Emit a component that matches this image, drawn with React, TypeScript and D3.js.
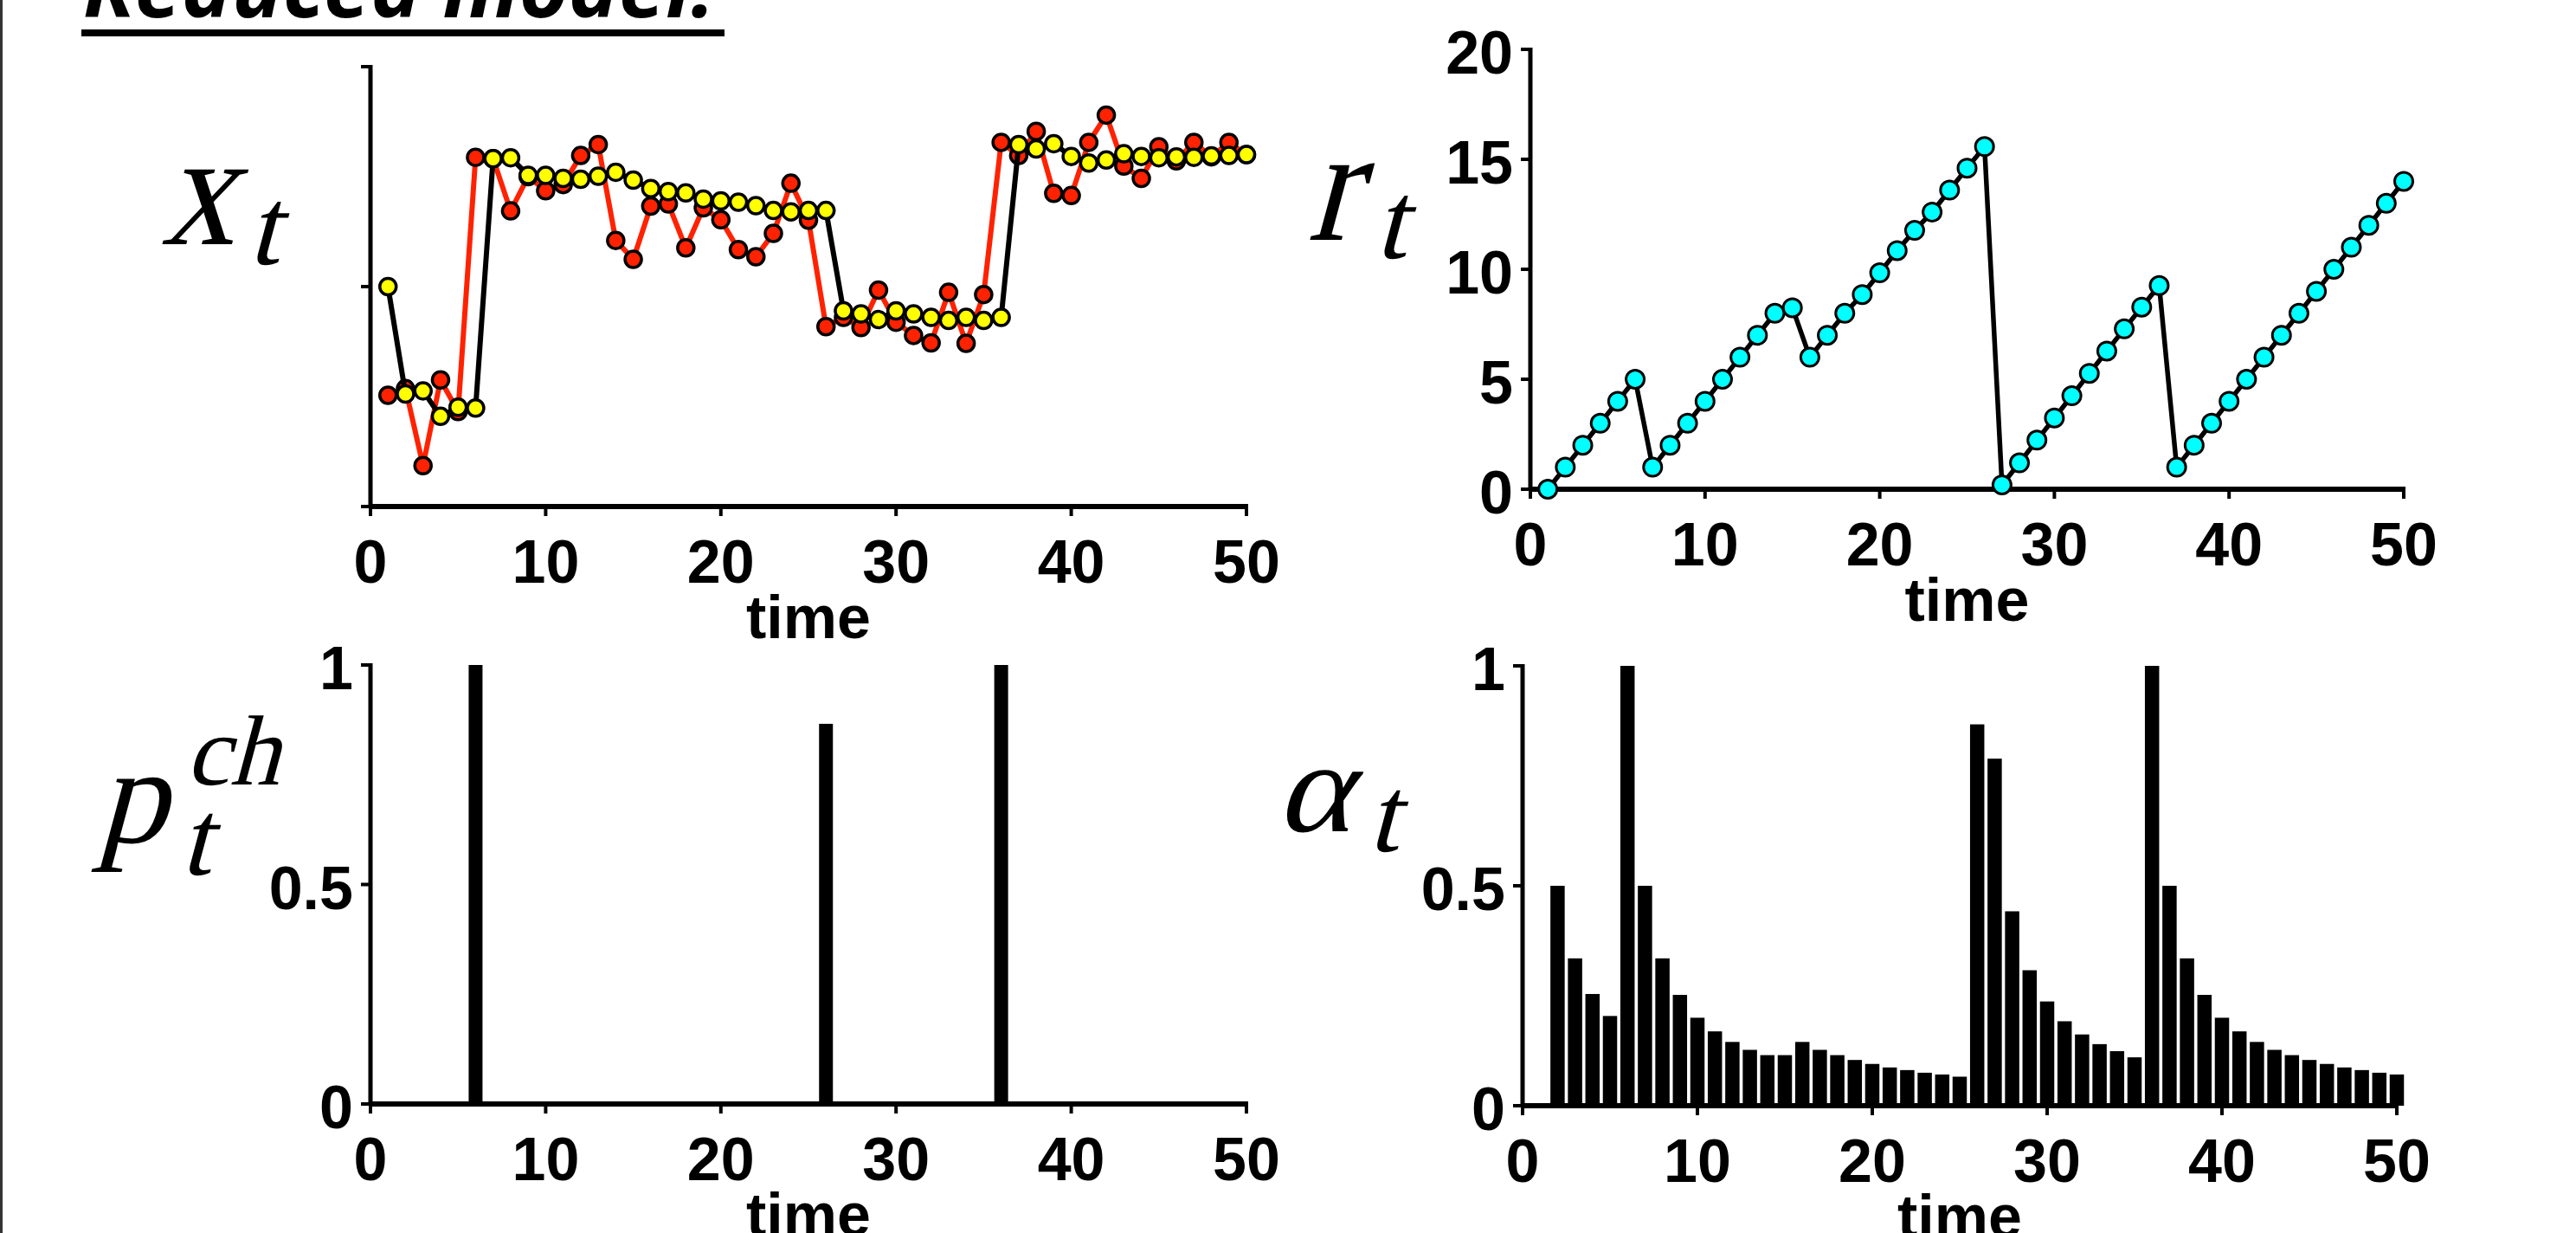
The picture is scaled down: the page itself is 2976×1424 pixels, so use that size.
import * as d3 from 'd3';

// time steps 1..50
const steps = d3.range(1, 51);

// observed outcome (red) and model estimate (yellow), normalised 0..1
const observed = [
  0.253, 0.268, 0.093, 0.288, 0.216, 0.794, 0.791, 0.672, 0.75, 0.718,
  0.732, 0.798, 0.823, 0.605, 0.562, 0.683, 0.688, 0.588, 0.679, 0.652,
  0.584, 0.568, 0.621, 0.735, 0.651, 0.409, 0.43, 0.407, 0.492, 0.419,
  0.389, 0.372, 0.487, 0.371, 0.482, 0.828, 0.798, 0.853, 0.712, 0.707,
  0.828, 0.89, 0.774, 0.746, 0.818, 0.786, 0.828, 0.795, 0.828, 0.8,
];
const estimate = [
  0.5, 0.256, 0.263, 0.205, 0.226, 0.224, 0.791, 0.793, 0.753, 0.753,
  0.746, 0.744, 0.751, 0.76, 0.742, 0.723, 0.716, 0.713, 0.699, 0.695,
  0.692, 0.684, 0.673, 0.67, 0.673, 0.673, 0.445, 0.438, 0.425, 0.445,
  0.438, 0.43, 0.423, 0.43, 0.423, 0.43, 0.823, 0.813, 0.825, 0.796,
  0.781, 0.788, 0.802, 0.796, 0.793, 0.795, 0.794, 0.797, 0.798, 0.8,
];
// run length r_t
const runLength = [
  0, 1, 2, 3, 4, 5, 1, 2, 3, 4,
  5, 6, 7, 8, 8.25, 6, 7, 8, 8.85, 9.84,
  10.85, 11.77, 12.6, 13.6, 14.6, 15.58, 0.2, 1.2, 2.23, 3.24,
  4.25, 5.27, 6.28, 7.29, 8.28, 9.26, 1, 2, 3, 4,
  5, 6, 7, 8, 9, 10, 11, 12, 13, 14,
];
// change-point probability p_t^ch
const changeProb = [
  0, 0, 0, 0, 0, 1, 0, 0, 0, 0,
  0, 0, 0, 0, 0, 0, 0, 0, 0, 0,
  0, 0, 0, 0, 0, 0.866, 0, 0, 0, 0,
  0, 0, 0, 0, 0, 1, 0, 0, 0, 0,
  0, 0, 0, 0, 0, 0, 0, 0, 0, 0,
];
// learning rate alpha_t
const learningRate = [
  0, 0.5, 0.335, 0.254, 0.204, 1, 0.5, 0.335, 0.252, 0.2,
  0.169, 0.145, 0.127, 0.115, 0.115, 0.145, 0.127, 0.115, 0.104, 0.095,
  0.087, 0.081, 0.075, 0.071, 0.066, 0.867, 0.789, 0.442, 0.308, 0.237,
  0.192, 0.162, 0.14, 0.124, 0.11, 1, 0.5, 0.335, 0.252, 0.2,
  0.169, 0.145, 0.127, 0.115, 0.104, 0.095, 0.087, 0.081, 0.075, 0.071,
];

const timeTicks = [0, 10, 20, 30, 40, 50];
const unitTicks = [0, 0.5, 1];
const unitTickLabels = ['0', '0.5', '1'];
const runTicks = [0, 5, 10, 15, 20];
const runTickLabels = ['0', '5', '10', '15', '20'];

const W = 2976;
const H = 1424;
const SANS = "'Liberation Sans', Arial, Helvetica, sans-serif";
const SERIF = "'Liberation Serif', 'DejaVu Serif', serif";
const RED = '#ff2200';
const YELLOW = '#ffff00';
const CYAN = '#00ffff';

function Axes({ x, y, yTicks, yLabels }) {
  const [x0, x1] = x.range();
  const [yb, yt] = y.range();
  return (
    <g stroke='#000' fontFamily={SANS} fontWeight='bold' fontSize={70}>
      <line x1={x0} x2={x0} y1={yt - 2} y2={yb} strokeWidth={5} />
      <line x1={x0 - 2} x2={x1 + 2} y1={yb} y2={yb} strokeWidth={6} />
      {timeTicks.map((t) => (
        <g key={'x' + t}>
          <line x1={x(t)} x2={x(t)} y1={yb} y2={yb + 11} strokeWidth={4} />
          <text x={x(t)} y={yb + 88} textAnchor='middle' stroke='none'>
            {t}
          </text>
        </g>
      ))}
      {yTicks.map((v, i) => (
        <g key={'y' + v}>
          <line x1={x0 - 11} x2={x0} y1={y(v)} y2={y(v)} strokeWidth={4} />
          {yLabels && (
            <text x={x0 - 20} y={y(v) + 28} textAnchor='end' stroke='none'>
              {yLabels[i]}
            </text>
          )}
        </g>
      ))}
      <text x={(x0 + x1) / 2} y={yb + 152} textAnchor='middle' stroke='none'>
        time
      </text>
    </g>
  );
}

// slanted roman serif glyph (stands in for TeX math italic)
function Slanted({ x, y, size, sx = 1, sy = 1, children }) {
  return (
    <text
      transform={`translate(${x},${y}) skewX(-15) scale(${sx},${sy})`}
      fontFamily={SERIF}
      fontSize={size}
      fill='#000'
    >
      {children}
    </text>
  );
}

export default function App() {
  // panel scales
  const x1 = d3.scaleLinear().domain([0, 50]).range([428, 1440]);
  const y1 = d3.scaleLinear().domain([0, 1]).range([585, 77]);
  const x2 = d3.scaleLinear().domain([0, 50]).range([1768, 2777]);
  const y2 = d3.scaleLinear().domain([0, 20]).range([565, 57]);
  const x3 = d3.scaleLinear().domain([0, 50]).range([428, 1440]);
  const y3 = d3.scaleLinear().domain([0, 1]).range([1275, 768]);
  const x4 = d3.scaleLinear().domain([0, 50]).range([1759, 2769]);
  const y4 = d3.scaleLinear().domain([0, 1]).range([1277, 769]);

  const line1 = d3.line().x((d) => x1(d[0])).y((d) => y1(d[1]));
  const line2 = d3.line().x((d) => x2(d[0])).y((d) => y2(d[1]));

  const obsPts = steps.map((t, i) => [t, observed[i]]);
  const estPts = steps.map((t, i) => [t, estimate[i]]);
  const runPts = steps.map((t, i) => [t, runLength[i]]);

  return (
    <svg
      width={W}
      height={H}
      style={{ position: 'absolute', left: 0, top: 0, background: '#fff' }}
    >
      <rect x={0} y={0} width={W} height={H} fill='#fff' />
      <line x1={1.5} x2={1.5} y1={0} y2={H} stroke='#333' strokeWidth={3} />

      {/* title, cut at the top edge */}
      <text
        x={96}
        y={20}
        fontFamily="'Open Sans', 'Liberation Sans', sans-serif"
        fontWeight='bold'
        fontStyle='italic'
        fontSize={96}
        textLength={730}
        lengthAdjust='spacingAndGlyphs'
      >
        Reduced model:
      </text>
      <rect x={94} y={34} width={743} height={8} fill='#000' />

      {/* x_t panel */}
      <Axes x={x1} y={y1} yTicks={unitTicks} yLabels={null} />
      <path d={line1(obsPts)} fill='none' stroke={RED} strokeWidth={6} strokeLinejoin='round' />
      {obsPts.map((d) => (
        <circle key={'o' + d[0]} cx={x1(d[0])} cy={y1(d[1])} r={9.5} fill={RED} stroke='#000' strokeWidth={3.5} />
      ))}
      <path d={line1(estPts)} fill='none' stroke='#000' strokeWidth={6} strokeLinejoin='round' />
      {estPts.map((d) => (
        <circle key={'e' + d[0]} cx={x1(d[0])} cy={y1(d[1])} r={9.5} fill={YELLOW} stroke='#000' strokeWidth={3.5} />
      ))}
      <Slanted x={186} y={282} size={168} sy={1.12}>x</Slanted>
      <Slanted x={286} y={305} size={128}>t</Slanted>

      {/* r_t panel */}
      <Axes x={x2} y={y2} yTicks={runTicks} yLabels={runTickLabels} />
      <path d={line2(runPts)} fill='none' stroke='#000' strokeWidth={5.5} strokeLinejoin='round' />
      {runPts.map((d) => (
        <circle key={'r' + d[0]} cx={x2(d[0])} cy={y2(d[1])} r={10.5} fill={CYAN} stroke='#000' strokeWidth={3} />
      ))}
      <Slanted x={1510} y={277} size={168} sy={1.12}>r</Slanted>
      <Slanted x={1588} y={298} size={128}>t</Slanted>

      {/* p_t^ch panel */}
      <Axes x={x3} y={y3} yTicks={unitTicks} yLabels={unitTickLabels} />
      {steps.map((t, i) =>
        changeProb[i] > 0 ? (
          <rect key={'p' + t} x={x3(t) - 8} y={y3(changeProb[i])} width={16} height={y3(0) - y3(changeProb[i])} fill='#000' />
        ) : null,
      )}
      <Slanted x={112} y={973} size={160}>p</Slanted>
      <Slanted x={208} y={1010} size={125}>t</Slanted>
      <Slanted x={214} y={906} size={115}>ch</Slanted>

      {/* alpha_t panel */}
      <Axes x={x4} y={y4} yTicks={unitTicks} yLabels={unitTickLabels} />
      {steps.map((t, i) =>
        learningRate[i] > 0 ? (
          <rect key={'a' + t} x={x4(t) - 8.25} y={y4(learningRate[i])} width={16.5} height={y4(0) - y4(learningRate[i])} fill='#000' />
        ) : null,
      )}
      <Slanted x={1474} y={960} size={150} sx={1.1}>α</Slanted>
      <Slanted x={1580} y={983} size={125}>t</Slanted>
    </svg>
  );
}
